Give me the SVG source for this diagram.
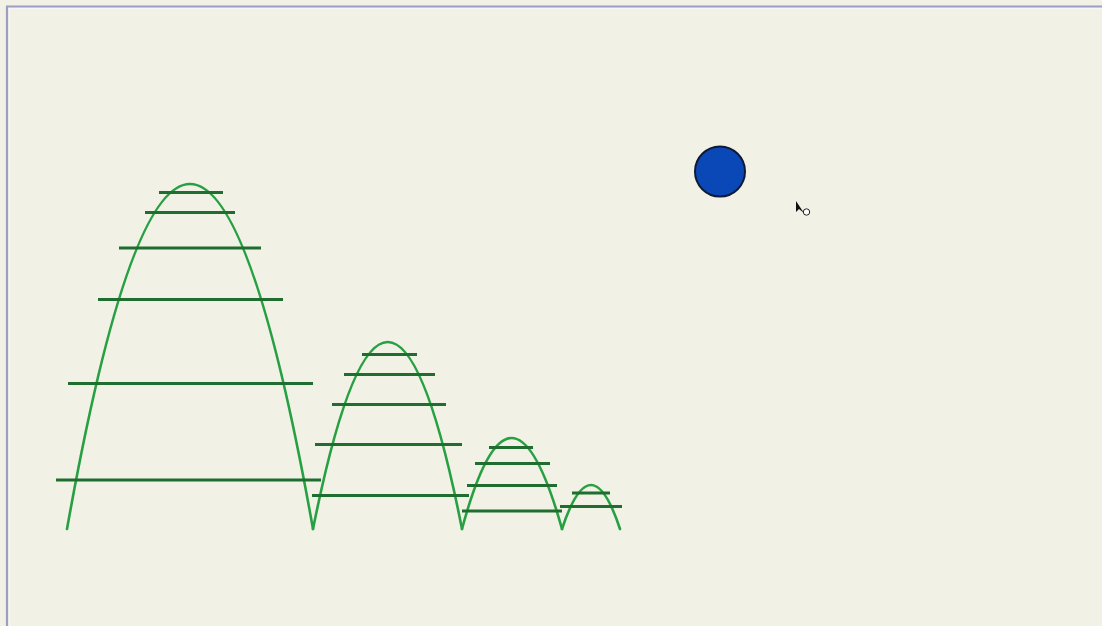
<svg xmlns="http://www.w3.org/2000/svg" width="1102" height="626" viewBox="0 0 1102 626">
<style>
.arc{fill:none;stroke:#27a043;stroke-width:2.6;stroke-linecap:round}
.lvl{stroke:#1f6e30;stroke-width:3;stroke-linecap:butt}
</style>
<rect x="0" y="0" width="1102" height="626" fill="#f1f1e5"/>
<g id="frame">
<line x1="8" y1="8.5" x2="1102" y2="8.5" stroke="#f6f6f8" stroke-width="1.5"/>
<line x1="9.5" y1="8" x2="9.5" y2="626" stroke="#f6f6f8" stroke-width="1.5"/>
<line x1="6" y1="6.5" x2="1102" y2="6.5" stroke="#9e9ec2" stroke-width="2.2"/>
<line x1="7" y1="6" x2="7" y2="626" stroke="#9e9ec2" stroke-width="2.2"/>
</g>
<g id="connectors">
<path class="arc" d="M67,529 Q190,-161 313,529"/>
<path class="arc" d="M313,529 Q388,155 462,529"/>
<path class="arc" d="M462,529 Q511,347 562,529"/>
<path class="arc" d="M562,529 Q591,441 620,529"/>
</g>
<g id="levels1">
<line class="lvl" x1="159" y1="192.5" x2="223" y2="192.5"/>
<line class="lvl" x1="145" y1="212.5" x2="235" y2="212.5"/>
<line class="lvl" x1="119" y1="248" x2="261" y2="248"/>
<line class="lvl" x1="98" y1="299.5" x2="283" y2="299.5"/>
<line class="lvl" x1="68" y1="383.5" x2="313" y2="383.5"/>
<line class="lvl" x1="56" y1="480" x2="321" y2="480"/>
</g>
<g id="levels2">
<line class="lvl" x1="362" y1="354.5" x2="417" y2="354.5"/>
<line class="lvl" x1="344" y1="374.5" x2="435" y2="374.5"/>
<line class="lvl" x1="332" y1="404.5" x2="446" y2="404.5"/>
<line class="lvl" x1="315" y1="444.5" x2="462" y2="444.5"/>
<line class="lvl" x1="312" y1="495.5" x2="469" y2="495.5"/>
</g>
<g id="levels3">
<line class="lvl" x1="489" y1="447.5" x2="533" y2="447.5"/>
<line class="lvl" x1="475" y1="463.5" x2="550" y2="463.5"/>
<line class="lvl" x1="467" y1="485.5" x2="557" y2="485.5"/>
<line class="lvl" x1="462" y1="511" x2="562" y2="511"/>
</g>
<g id="levels4">
<line class="lvl" x1="572" y1="493" x2="610" y2="493"/>
<line class="lvl" x1="560" y1="506.5" x2="622" y2="506.5"/>
</g>
<g id="ball">
<circle cx="720" cy="171.5" r="25" fill="#0a48b8" stroke="#0e1a36" stroke-width="2"/>
</g>
<g id="cursor">
<polygon points="796,201 796,212 799,209 804,213" fill="#111"/>
<circle cx="806.5" cy="212" r="3.2" fill="#fff" stroke="#222" stroke-width="1"/>
</g>
</svg>
